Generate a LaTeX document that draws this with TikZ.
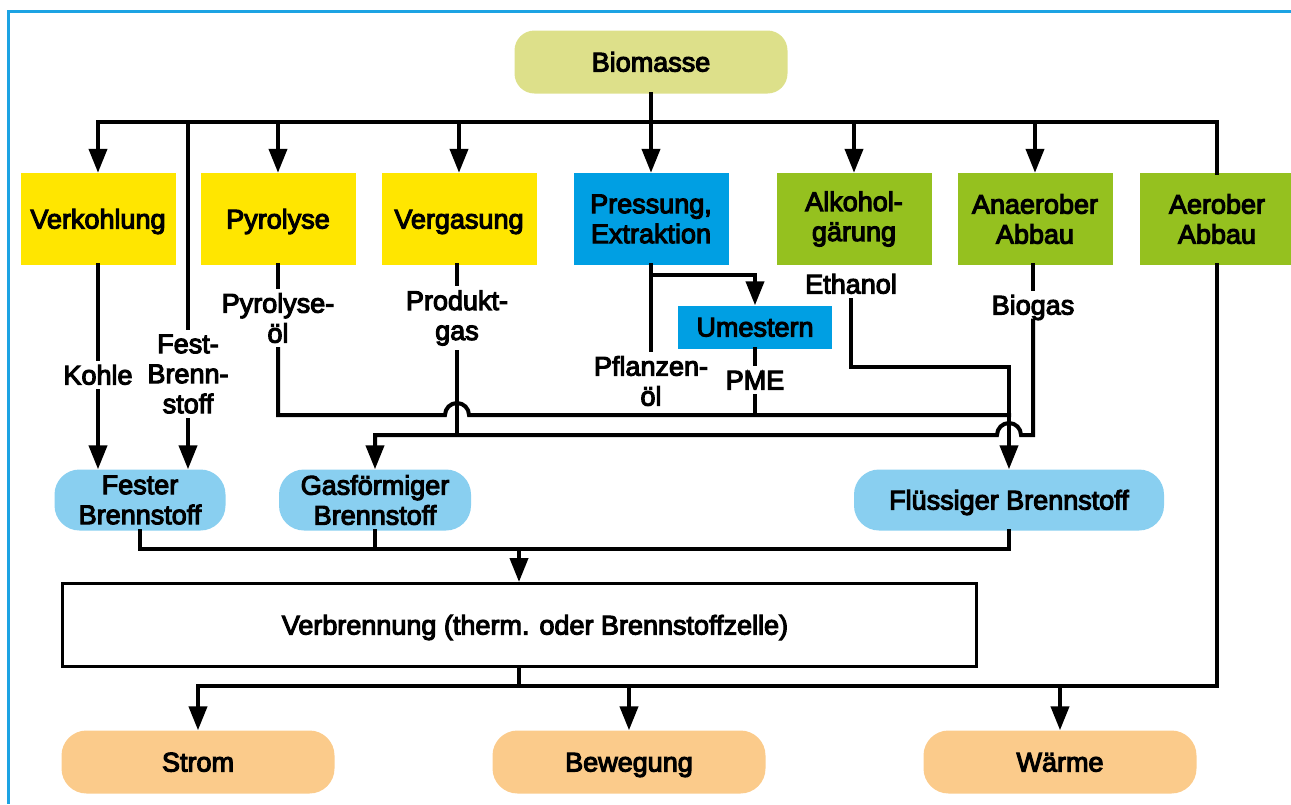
\documentclass[tikz,border=0pt]{standalone}
\usepackage{fontspec}
\newfontfamily\medfont{Liberation Sans}[FakeBold=4]
\usetikzlibrary{arrows.meta,calc}

\definecolor{biocol}{HTML}{DDE08A}
\definecolor{ylw}{HTML}{FFE600}
\definecolor{blu}{HTML}{009FE3}
\definecolor{grn}{HTML}{95C11F}
\definecolor{lblu}{HTML}{89CFF0}
\definecolor{orng}{HTML}{FBCB8B}
\definecolor{framecol}{HTML}{1CA3E3}

\begin{document}
\begin{tikzpicture}[x=1pt,y=-1pt,font=\medfont\fontsize{27}{30}\selectfont]
            \tikzset{
	conn/.style={line width=4pt, line cap=rect},
	arr/.style={conn, -{Triangle[width=18pt,length=24pt]}},
	one/.style={text height=19pt, text depth=0pt},
	proc/.style={minimum width=155pt, minimum height=92pt, align=center, inner sep=0pt},
	fuel/.style={fill=lblu, rounded corners=25pt, minimum height=61pt, align=center, inner sep=0pt},
	use/.style={one, fill=orng, rounded corners=25pt, minimum width=273pt, minimum height=63pt},
	lbl/.style={align=center, inner sep=6pt}
}
\useasboundingbox (0,0) rectangle (1291,804);
\draw[framecol, line width=3pt] (1291,11) -- (8,11) -- (8,804);

% boxes
\node[one, fill=biocol, rounded corners=20pt, minimum width=273pt, minimum height=63pt] (bio) at (651,62) {Biomasse};

\node[proc, one, fill=ylw] (verk) at (98,219) {Verkohlung};
\node[proc, one, fill=ylw] (pyro) at (278,219) {Pyrolyse};
\node[proc, one, fill=ylw] (verg) at (459,219) {Vergasung};
\node[proc, fill=blu] (press) at (651,219) {Pressung,\\Extraktion};
\node[proc, fill=grn] (alk) at (854,219) {Alkohol-\\gärung};
\node[proc, fill=grn] (ana) at (1035,219) {Anaerober\\Abbau};
\node[proc, fill=grn] (aer) at (1217,219) {Aerober\\Abbau};
\node[one, fill=blu, minimum width=154pt, minimum height=43pt] (um) at (755,327) {Umestern};

\node[lbl, one] (kohle) at (98,375) {Kohle};
\node[lbl] (fest) at (188,374) {Fest-\\Brenn-\\stoff};
\node[lbl] (pyroel) at (278,318) {Pyrolyse-\\öl};
\node[lbl] (prod) at (457,318) {Produkt-\\gas};
\node[lbl] (pfl) at (651,381) {Pflanzen-\\öl};
\node[lbl, one] (pme) at (755,380) {PME};
\node[lbl, one] (eth) at (851,284) {Ethanol};
\node[lbl, one] (biogas) at (1033,305) {Biogas};

\node[fuel, minimum width=171pt] (fester) at (140,500) {Fester\\Brennstoff};
\node[fuel, minimum width=192pt] (gas) at (375,500) {Gasförmiger\\Brennstoff};
\node[fuel, one, minimum width=310pt] (fluess) at (1009,500) {Flüssiger Brennstoff};

\node[one, draw, line width=3pt, fill=white, minimum width=914pt, minimum height=83pt] (verb) at (519,625) {\hspace*{32pt}Verbrennung (therm. oder Brennstoffzelle)};

\node[use] (strom) at (198,762) {Strom};
\node[use] (beweg) at (629,762) {Bewegung};
\node[use] (waerme) at (1060,762) {Wärme};

\coordinate (bus) at (651,122);
\coordinate (l1) at (0,415);
\coordinate (l2) at (0,435);
\coordinate (l3) at (0,367);
\coordinate (sum) at (519,549);
\coordinate (bot) at (519,686);

% top distribution
\draw[arr] (bio) -- (press);
\draw[conn] (verk.north |- bus) -- (aer.north |- bus) -- (aer.north);
\foreach \n in {verk,pyro,verg,alk,ana}
	\draw[arr] (\n.north |- bus) -- (\n.north);
\draw[conn] (fest |- bus) -- (fest);
\draw[arr] (fest) -- (fest |- fester.north);

% products
\draw[conn] (verk) -- (kohle);
\draw[arr] (kohle) -- (kohle |- fester.north);
\draw[conn] (pyro) -- (pyroel);
\draw[conn] (pyroel) |- ($(prod |- l1)+(-12,0)$) arc[start angle=180, end angle=0, radius=12pt] -- (fluess.north |- l1);
\draw[conn] (prod |- verg.south) -- (prod);
\draw[conn] (prod) -- (prod |- l2);
\draw[conn] (press) -- (pfl);
\draw[arr] ([yshift=-10pt]press.south) -| (um);
\draw[conn] (um) -- (pme);
\draw[conn] (pme) -- (pme |- l1);
\draw[arr] (eth) |- (fluess.north |- l3) -- (fluess.north);
\draw[conn] (biogas |- ana.south) -- (biogas);
\draw[arr] (biogas) |- ($(fluess.north |- l2)+(12,0)$) arc[start angle=0, end angle=180, radius=12pt] -- (gas.north |- l2) -- (gas.north);

% fuels to use
\draw[conn] (fester) |- (fluess.south |- sum) -- (fluess);
\draw[conn] (gas) -- (gas |- sum);
\draw[arr] (sum) -- (verb);
\draw[conn] (verb) -- (bot);
\draw[conn] (strom.north |- bot) -- (aer.south |- bot) -- (aer);
\foreach \n in {strom,beweg,waerme}
	\draw[arr] (\n.north |- bot) -- (\n);
        \end{tikzpicture}
\end{document}
